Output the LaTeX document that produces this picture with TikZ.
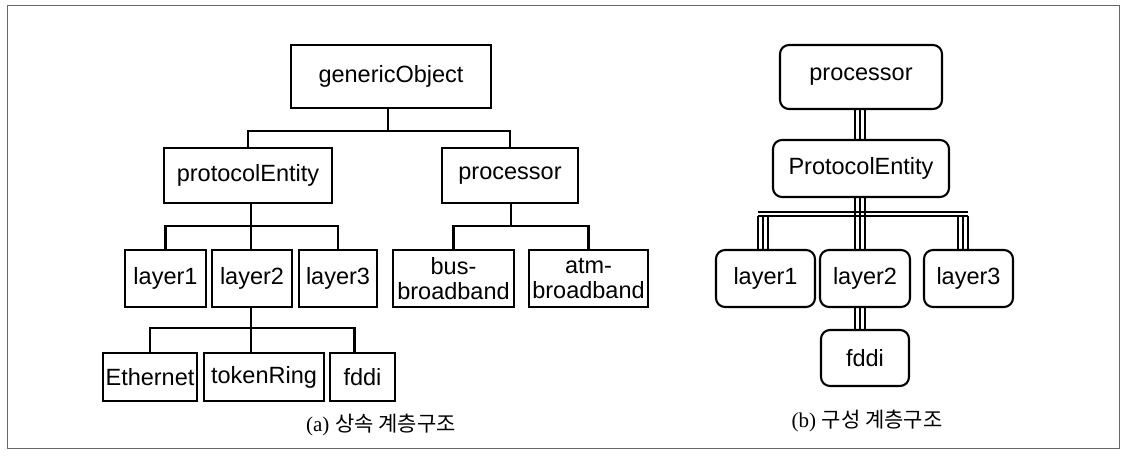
\documentclass[tikz,border=0pt]{standalone}
\usepackage{fontspec}
\setmainfont{Liberation Sans}
\newfontfamily\capserif{Liberation Serif}
\newfontfamily\kofont{Noto Sans CJK KR}
\usetikzlibrary{calc}
\tikzset{
  box/.style={draw, line width=2.1pt, inner sep=0pt, align=center,
    font=\fontsize{23.5}{25}\selectfont},
  rbox/.style={box, rounded corners=9pt},
  conn/.style={line width=2.2pt},
  tl/.style={line width=1.5pt},
  captxt/.style={inner sep=0pt, font=\fontsize{21}{23}\selectfont},
}
\begin{document}
\begin{tikzpicture}[x=1pt,y=-1pt]
\useasboundingbox (0,0) rectangle (1123,455);
\draw[black!60, line width=0.8pt] (7,5) rectangle (1119,448);

% ---- (a) inheritance hierarchy ----
\node[box, minimum width=200, minimum height=63] (gO) at (391,76.5) {genericObject};
\node[box, minimum width=168, minimum height=55] (pE) at (248,175.5) {protocolEntity};
\node[box, minimum width=136, minimum height=55] (proc) at (510,175.5) {processor};
\node[box, minimum width=81, minimum height=57] (l1) at (165.5,278.5) {layer1};
\node[box, minimum width=80, minimum height=57] (l2) at (252,278.5) {layer2};
\node[box, minimum width=78, minimum height=57] (l3) at (338,278.5) {layer3};
\node[box, minimum width=121, minimum height=57] (bus) at (453.5,278.5) {bus-\\broadband};
\node[box, minimum width=119, minimum height=57] (atm) at (588.5,278.5) {atm-\\broadband};
\node[box, minimum width=94, minimum height=48] (eth) at (150,377) {Ethernet};
\node[box, minimum width=120, minimum height=48] (tok) at (264,377) {tokenRing};
\node[box, minimum width=65, minimum height=48] (fdA) at (362.5,377) {fddi};

\coordinate (j1) at (388,131);
\coordinate (j2) at (251,226);
\coordinate (j2b) at (511,226);
\coordinate (j3) at (251,328);

\draw[conn] (gO.south -| j1) -- (j1);
\draw[conn] (pE.north) -- (pE.north |- j1) -- (proc.north |- j1) -- (proc.north);
\draw[conn] (pE.south -| j2) -- (j2);
\draw[conn] (l1.north) -- (l1.north |- j2) -- (l3.north |- j2) -- (l3.north);
\draw[conn] (j2) -- (j2 |- l2.north);
\draw[conn] (proc.south -| j2b) -- (j2b);
\draw[conn] (bus.north) -- (bus.north |- j2b) -- (atm.north |- j2b) -- (atm.north);
\draw[conn] (l2.south -| j3) -- (j3);
\draw[conn] (eth.north) -- (eth.north |- j3) -- ($(fdA.north |- j3)+(-8,0)$) -- ($(fdA.north)+(-8,0)$);
\draw[conn] (j3) -- (j3 |- tok.north);

\node[captxt] (capA) at (381,425) {{\capserif (a)} {\kofont 상속 계층구조}};

% ---- (b) composition hierarchy ----
\node[rbox, minimum width=162, minimum height=64] (procB) at (861,77) {processor};
\node[rbox, minimum width=176, minimum height=57] (pEB) at (861,168.5) {ProtocolEntity};
\node[rbox, minimum width=99, minimum height=57] (l1B) at (765.5,278.5) {layer1};
\node[rbox, minimum width=90, minimum height=57] (l2B) at (865,278.5) {layer2};
\node[rbox, minimum width=89, minimum height=57] (l3B) at (968.5,278.5) {layer3};
\node[rbox, minimum width=88, minimum height=56] (fdB) at (865,358) {fddi};

\coordinate (h1) at (763,216);
\coordinate (h2) at (860,216);
\coordinate (h3) at (963,216);

\foreach \d in {-5,0,5}{
  \draw[tl] ([xshift=\d pt]h2 |- procB.south) -- ([xshift=\d pt]h2 |- pEB.north);
  \draw[tl] ([xshift=\d pt]h2 |- pEB.south) -- ([xshift=\d pt]h2 |- l2B.north);
  \draw[tl] ([xshift=\d pt]h1) -- ([xshift=\d pt]h1 |- l1B.north);
  \draw[tl] ([xshift=\d pt]h3) -- ([xshift=\d pt]h3 |- l3B.north);
  \draw[tl] ([xshift=\d pt]h2 |- l2B.south) -- ([xshift=\d pt]h2 |- fdB.north);
}
\draw[tl] ([xshift=-5pt]h1) -- ([xshift=5pt]h3);
\draw[tl] ([xshift=-5pt,yshift=4pt]h1) -- ([xshift=5pt,yshift=4pt]h3);

\node[captxt] (capB) at (867,421) {{\capserif (b)} {\kofont 구성 계층구조}};
\end{tikzpicture}
\end{document}
